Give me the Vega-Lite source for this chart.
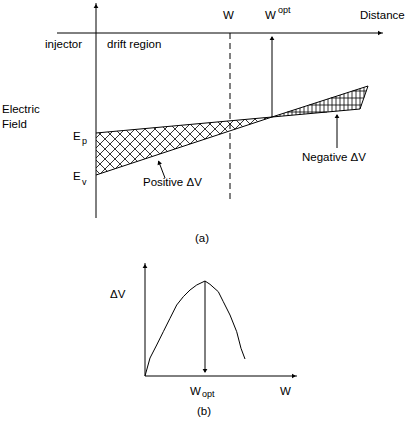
{
  "$schema": "https://vega.github.io/schema/vega-lite/v6.json",
  "width": 408,
  "height": 428,
  "autosize": {"type": "fit", "contains": "padding"},
  "padding": 0,
  "background": "white",
  "config": {"view": {"stroke": null}, "axis": {"grid": false}},
  "datasets": {
    "lines": [
      {"x": 96, "y": 3, "x2": 96, "y2": 218},
      {"x": 57, "y": 33, "x2": 383, "y2": 33},
      {"x": 272, "y": 117, "x2": 272, "y2": 37},
      {"x": 96, "y": 133, "x2": 360, "y2": 109},
      {"x": 96, "y": 175, "x2": 272, "y2": 117},
      {"x": 272, "y": 117, "x2": 368, "y2": 86},
      {"x": 360, "y": 109, "x2": 368, "y2": 86},
      {"x": 165, "y": 178, "x2": 158.5, "y2": 161},
      {"x": 337, "y": 148, "x2": 337, "y2": 115},
      {"x": 145, "y": 263, "x2": 145, "y2": 376},
      {"x": 145, "y": 376, "x2": 297, "y2": 376},
      {"x": 205, "y": 281, "x2": 205, "y2": 372}
    ],
    "dashed": [
      {"x": 230, "y": 33, "x2": 230, "y2": 203}
    ],
    "hatch": [
      {"x": 96, "y": 170, "x2": 99.8, "y2": 173.8},
      {"x": 96, "y": 160, "x2": 107.3, "y2": 171.3},
      {"x": 96, "y": 150, "x2": 114.8, "y2": 168.8},
      {"x": 96, "y": 140, "x2": 122.3, "y2": 166.3},
      {"x": 98.8, "y": 132.8, "x2": 129.9, "y2": 163.9},
      {"x": 107.9, "y": 131.9, "x2": 137.4, "y2": 161.4},
      {"x": 117.1, "y": 131.1, "x2": 144.9, "y2": 158.9},
      {"x": 126.3, "y": 130.3, "x2": 152.4, "y2": 156.4},
      {"x": 135.4, "y": 129.4, "x2": 159.9, "y2": 153.9},
      {"x": 144.6, "y": 128.6, "x2": 167.5, "y2": 151.5},
      {"x": 153.8, "y": 127.8, "x2": 175.0, "y2": 149.0},
      {"x": 162.9, "y": 126.9, "x2": 182.5, "y2": 146.5},
      {"x": 172.1, "y": 126.1, "x2": 190.0, "y2": 144.0},
      {"x": 181.3, "y": 125.3, "x2": 197.5, "y2": 141.5},
      {"x": 190.4, "y": 124.4, "x2": 205.1, "y2": 139.1},
      {"x": 199.6, "y": 123.6, "x2": 212.6, "y2": 136.6},
      {"x": 208.8, "y": 122.8, "x2": 220.1, "y2": 134.1},
      {"x": 217.9, "y": 121.9, "x2": 227.6, "y2": 131.6},
      {"x": 227.1, "y": 121.1, "x2": 235.2, "y2": 129.2},
      {"x": 236.3, "y": 120.3, "x2": 242.7, "y2": 126.7},
      {"x": 245.4, "y": 119.4, "x2": 250.2, "y2": 124.2},
      {"x": 254.6, "y": 118.6, "x2": 257.7, "y2": 121.7},
      {"x": 263.8, "y": 117.8, "x2": 265.2, "y2": 119.2},
      {"x": 96, "y": 138, "x2": 101.5, "y2": 132.5},
      {"x": 96, "y": 148, "x2": 112.5, "y2": 131.5},
      {"x": 96, "y": 158, "x2": 123.5, "y2": 130.5},
      {"x": 96, "y": 168, "x2": 134.5, "y2": 129.5},
      {"x": 100.5, "y": 173.5, "x2": 145.5, "y2": 128.5},
      {"x": 115.4, "y": 168.6, "x2": 156.5, "y2": 127.5},
      {"x": 130.3, "y": 163.7, "x2": 167.5, "y2": 126.5},
      {"x": 145.2, "y": 158.8, "x2": 178.5, "y2": 125.5},
      {"x": 160.1, "y": 153.9, "x2": 189.5, "y2": 124.5},
      {"x": 175.1, "y": 149.0, "x2": 200.5, "y2": 123.5},
      {"x": 190.0, "y": 144.0, "x2": 211.5, "y2": 122.5},
      {"x": 204.9, "y": 139.1, "x2": 222.5, "y2": 121.5},
      {"x": 219.8, "y": 134.2, "x2": 233.5, "y2": 120.5},
      {"x": 234.7, "y": 129.3, "x2": 244.5, "y2": 119.5},
      {"x": 249.6, "y": 124.4, "x2": 255.5, "y2": 118.5},
      {"x": 264.5, "y": 119.5, "x2": 266.5, "y2": 117.5},
      {"x": 276, "y": 115.7, "x2": 276, "y2": 116.6},
      {"x": 280, "y": 114.4, "x2": 280, "y2": 116.3},
      {"x": 284, "y": 113.1, "x2": 284, "y2": 115.9},
      {"x": 288, "y": 111.8, "x2": 288, "y2": 115.5},
      {"x": 292, "y": 110.5, "x2": 292, "y2": 115.2},
      {"x": 296, "y": 109.2, "x2": 296, "y2": 114.8},
      {"x": 300, "y": 108.0, "x2": 300, "y2": 114.5},
      {"x": 304, "y": 106.7, "x2": 304, "y2": 114.1},
      {"x": 308, "y": 105.4, "x2": 308, "y2": 113.7},
      {"x": 312, "y": 104.1, "x2": 312, "y2": 113.4},
      {"x": 316, "y": 102.8, "x2": 316, "y2": 113.0},
      {"x": 320, "y": 101.5, "x2": 320, "y2": 112.6},
      {"x": 324, "y": 100.2, "x2": 324, "y2": 112.3},
      {"x": 328, "y": 98.9, "x2": 328, "y2": 111.9},
      {"x": 332, "y": 97.6, "x2": 332, "y2": 111.5},
      {"x": 336, "y": 96.3, "x2": 336, "y2": 111.2},
      {"x": 340, "y": 95.0, "x2": 340, "y2": 110.8},
      {"x": 344, "y": 93.7, "x2": 344, "y2": 110.5},
      {"x": 348, "y": 92.5, "x2": 348, "y2": 110.1},
      {"x": 352, "y": 91.2, "x2": 352, "y2": 109.7},
      {"x": 356, "y": 89.9, "x2": 356, "y2": 109.4},
      {"x": 360, "y": 88.6, "x2": 360, "y2": 109.0},
      {"x": 364, "y": 87.3, "x2": 364, "y2": 97.5},
      {"x": 287.5, "y": 112, "x2": 327, "y2": 112},
      {"x": 309.2, "y": 105, "x2": 361.4, "y2": 105},
      {"x": 330.8, "y": 98, "x2": 363.8, "y2": 98},
      {"x": 352.5, "y": 91, "x2": 366.3, "y2": 91}
    ],
    "curve": [
      {"i": 0, "x": 145, "y": 376},
      {"i": 1, "x": 150, "y": 358},
      {"i": 2, "x": 156.7, "y": 345},
      {"i": 3, "x": 163.3, "y": 331.7},
      {"i": 4, "x": 170, "y": 318.3},
      {"i": 5, "x": 176.7, "y": 305},
      {"i": 6, "x": 183.3, "y": 296.7},
      {"i": 7, "x": 190, "y": 290},
      {"i": 8, "x": 196.7, "y": 285},
      {"i": 9, "x": 205, "y": 281},
      {"i": 10, "x": 210, "y": 284.3},
      {"i": 11, "x": 218.3, "y": 291.7},
      {"i": 12, "x": 223.3, "y": 301.7},
      {"i": 13, "x": 230, "y": 315},
      {"i": 14, "x": 236.7, "y": 331.7},
      {"i": 15, "x": 241, "y": 348.3},
      {"i": 16, "x": 245, "y": 359}
    ],
    "heads": [
      {"dir": "up", "x": 96, "y": 6},
      {"dir": "up", "x": 272, "y": 38},
      {"dir": "up", "x": 337, "y": 116},
      {"dir": "up", "x": 145, "y": 266},
      {"dir": "right", "x": 380, "y": 33},
      {"dir": "right", "x": 294, "y": 376},
      {"dir": "down", "x": 205, "y": 371},
      {"dir": "tilt", "x": 159, "y": 162.5}
    ],
    "labels": [
      {"t": "W", "x": 223, "y": 16},
      {"t": "W", "x": 265, "y": 16},
      {"t": "Distance", "x": 360, "y": 16},
      {"t": "injector", "x": 45, "y": 45},
      {"t": "drift region", "x": 107, "y": 45},
      {"t": "Electric", "x": 2, "y": 110},
      {"t": "Field", "x": 2, "y": 125},
      {"t": "E", "x": 73, "y": 137},
      {"t": "E", "x": 73, "y": 177},
      {"t": "Positive ΔV", "x": 143, "y": 183},
      {"t": "Negative ΔV", "x": 302, "y": 158},
      {"t": "(a)", "x": 195, "y": 239},
      {"t": "ΔV", "x": 110, "y": 295},
      {"t": "W", "x": 190, "y": 392},
      {"t": "W", "x": 280, "y": 392},
      {"t": "(b)", "x": 197, "y": 412}
    ],
    "small": [
      {"t": "opt", "x": 278, "y": 10},
      {"t": "p", "x": 82, "y": 141},
      {"t": "v", "x": 82, "y": 182},
      {"t": "opt", "x": 202, "y": 394}
    ]
  },
  "encoding": {
    "x": {"field": "x", "type": "quantitative", "scale": {"domain": [0, 408], "nice": false, "zero": false}, "axis": null},
    "y": {"field": "y", "type": "quantitative", "scale": {"domain": [0, 428], "nice": false, "zero": false, "reverse": true}, "axis": null}
  },
  "layer": [
    {
      "data": {"name": "hatch"},
      "mark": {"type": "rule", "color": "black", "strokeWidth": 0.8},
      "encoding": {"x2": {"field": "x2"}, "y2": {"field": "y2"}}
    },
    {
      "data": {"name": "lines"},
      "mark": {"type": "rule", "color": "black", "strokeWidth": 1},
      "encoding": {"x2": {"field": "x2"}, "y2": {"field": "y2"}}
    },
    {
      "data": {"name": "dashed"},
      "mark": {"type": "rule", "color": "black", "strokeWidth": 1, "strokeDash": [6, 4]},
      "encoding": {"x2": {"field": "x2"}, "y2": {"field": "y2"}}
    },
    {
      "data": {"name": "curve"},
      "mark": {"type": "line", "color": "black", "strokeWidth": 1},
      "encoding": {"order": {"field": "i", "type": "quantitative"}}
    },
    {
      "data": {"name": "heads"},
      "transform": [{"filter": "datum.dir === 'up'"}],
      "mark": {"type": "point", "shape": "triangle-up", "filled": true, "color": "black", "size": 22, "opacity": 1}
    },
    {
      "data": {"name": "heads"},
      "transform": [{"filter": "datum.dir === 'right'"}],
      "mark": {"type": "point", "shape": "triangle-right", "filled": true, "color": "black", "size": 22, "opacity": 1}
    },
    {
      "data": {"name": "heads"},
      "transform": [{"filter": "datum.dir === 'down'"}],
      "mark": {"type": "point", "shape": "triangle-down", "filled": true, "color": "black", "size": 22, "opacity": 1}
    },
    {
      "data": {"name": "heads"},
      "transform": [{"filter": "datum.dir === 'tilt'"}],
      "mark": {"type": "point", "shape": "triangle-up", "filled": true, "color": "black", "size": 22, "opacity": 1, "angle": 339}
    },
    {
      "data": {"name": "labels"},
      "mark": {"type": "text", "align": "left", "baseline": "middle", "font": "Liberation Sans", "fontSize": 11.5, "color": "black"},
      "encoding": {"text": {"field": "t"}}
    },
    {
      "data": {"name": "small"},
      "mark": {"type": "text", "align": "left", "baseline": "middle", "font": "Liberation Sans", "fontSize": 9, "color": "black"},
      "encoding": {"text": {"field": "t"}}
    }
  ]
}
